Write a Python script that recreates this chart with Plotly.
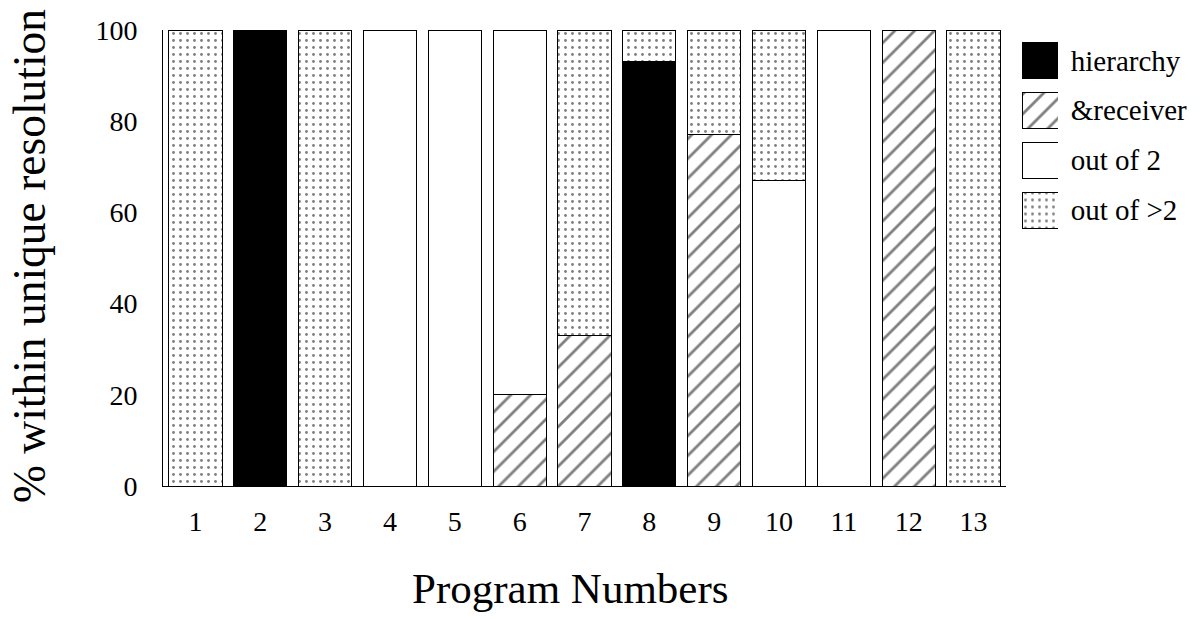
import plotly.graph_objects as go

# Share of resolved call sites per program, by resolution kind (percent)
programs = [str(i) for i in range(1, 14)]
hierarchy = [None, 100, None, None, None, None, None, 93, None, None, None, None, None]
receiver = [None, None, None, None, None, 20, 33, None, 77, None, None, 100, None]
out_of_2 = [None, None, None, 100, 100, 80, None, None, None, 67, 100, None, None]
out_of_more = [100, None, 100, None, None, None, 67, 7, 23, 33, None, None, 100]

series_names = ["hierarchy", "&receiver", "out of 2", "out of >2"]
y_ticks = [0, 20, 40, 60, 80, 100]

FONT = "Liberation Serif"

# fill styles per series: (solid colour, pattern)
styles = {
    "hierarchy": dict(color="black"),
    "&receiver": dict(color="white",
                      pattern=dict(shape="/", size=14, solidity=0.2,
                                   fgcolor="black", bgcolor="white", fillmode="overlay")),
    "out of 2": dict(color="white"),
    "out of >2": dict(color="white",
                      pattern=dict(shape=".", size=7, solidity=0.13,
                                   fgcolor="black", bgcolor="white", fillmode="overlay")),
}

values = {
    "hierarchy": hierarchy,
    "&receiver": receiver,
    "out of 2": out_of_2,
    "out of >2": out_of_more,
}

fig = go.Figure()

for name in series_names:
    fig.add_trace(go.Bar(
        x=programs, y=values[name], name=name, width=0.82,
        marker=dict(line=dict(color="black", width=1), **styles[name]),
        showlegend=False, xaxis="x", yaxis="y",
    ))

# key: one swatch per series on a small side axis, names as its tick labels
for name in series_names:
    fig.add_trace(go.Bar(
        x=[1], y=[name], orientation="h", width=0.72,
        marker=dict(line=dict(color="black", width=1), **styles[name]),
        showlegend=False, xaxis="x2", yaxis="y2", hoverinfo="skip",
    ))

W, H = 1204, 619
ml, mr, mt, mb = 163, 10, 30, 133
pw = W - ml - mr
ph = H - mt - mb


def px_x(p):
    return (p - ml) / pw


def px_y(p):
    return (H - mb - p) / ph


fig.update_layout(
    width=W, height=H,
    margin=dict(l=ml, r=mr, t=mt, b=mb, pad=0),
    barmode="stack",
    plot_bgcolor="white", paper_bgcolor="white",
    font=dict(family=FONT, color="black"),
    xaxis=dict(
        domain=[0, px_x(1006)], range=[-0.5, 12.5], type="category",
        categoryorder="array", categoryarray=programs,
        showline=True, linecolor="black", linewidth=1,
        ticks="outside", ticklen=10, tickcolor="rgba(0,0,0,0)",
        tickfont=dict(size=28, family=FONT),
        showgrid=False, zeroline=False, anchor="y",
    ),
    yaxis=dict(
        range=[0, 100], tickvals=y_ticks,
        showline=True, linecolor="black", linewidth=1,
        ticks="outside", ticklen=19, tickcolor="rgba(0,0,0,0)",
        tickfont=dict(size=28, family=FONT),
        showgrid=False, zeroline=False, anchor="x",
    ),
    xaxis2=dict(
        domain=[px_x(1022), px_x(1058)], range=[0, 1],
        visible=False, anchor="y2",
    ),
    yaxis2=dict(
        domain=[px_y(235), px_y(35.5)], range=[3.5, -0.5], type="category",
        categoryorder="array", categoryarray=series_names,
        side="right", anchor="x2",
        showline=False, showgrid=False, zeroline=False,
        ticks="outside", ticklen=6, tickcolor="rgba(0,0,0,0)",
        tickfont=dict(size=29, family=FONT),
    ),
    annotations=[
        dict(text="Program Numbers", xref="paper", yref="paper",
             x=px_x(570), y=px_y(588), xanchor="center", yanchor="middle",
             showarrow=False, font=dict(size=43, family=FONT)),
        dict(text="% within unique resolution", xref="paper", yref="paper",
             x=px_x(29), y=px_y(256), xanchor="center", yanchor="middle",
             textangle=-90, showarrow=False, font=dict(size=45.5, family=FONT)),
    ],
)

fig.write_html("out.html")
